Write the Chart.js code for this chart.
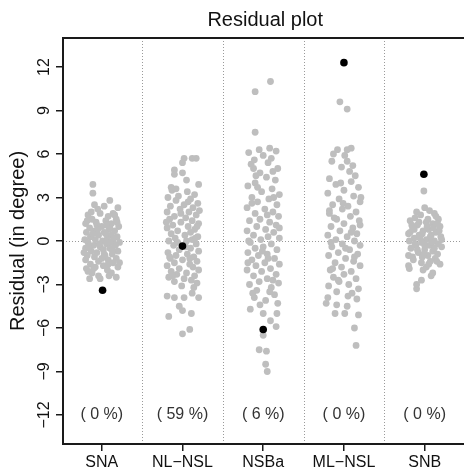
<!DOCTYPE html>
<html>
<head>
<meta charset="utf-8">
<script src="https://cdn.jsdelivr.net/npm/chart.js@4/dist/chart.umd.min.js"></script>
<style>
  html, body { margin: 0; padding: 0; background: #fff; overflow: hidden; }
  canvas { display: block; }
</style>
</head>
<body>
<canvas id="chart" width="464" height="472"></canvas>
<script>
// categories and the share labels printed near the bottom
const categories = ['SNA', 'NL\u2212NSL', 'NSBa', 'ML\u2212NSL', 'SNB'];
const shareLabels = ['( 0 %)', '( 59 %)', '( 6 %)', '( 0 %)', '( 0 %)'];
const yTicks = [-12, -9, -6, -3, 0, 3, 6, 9, 12];

// residuals per category: [jitter, residual]
const snaPts = [[-0.11,3.9],[-0.11,3.3],[0.1,2.8],[-0.09,2.5],[0.2,2.3],[-0.05,2.2],[0.03,2.4],[0.14,1.9],[-0.17,1.8],[0.08,1.7],[-0.02,1.9],[0.18,1.5],[-0.12,1.5],[0.05,1.4],[-0.2,1.2],[0.12,1.2],[-0.06,1.1],[0.21,1.0],[0.0,1.0],[-0.15,0.9],[0.09,0.8],[-0.09,0.7],[0.16,0.7],[-0.19,0.6],[0.03,0.6],[0.12,0.4],[-0.04,0.4],[-0.14,0.3],[0.19,0.3],[0.07,0.2],[-0.21,0.1],[-0.08,0.1],[0.14,0.0],[0.01,0.0],[-0.17,-0.1],[0.22,-0.1],[0.06,-0.2],[-0.1,-0.3],[0.17,-0.3],[-0.02,-0.4],[-0.2,-0.5],[0.1,-0.5],[0.02,-0.6],[-0.13,-0.7],[0.2,-0.7],[-0.06,-0.8],[0.13,-0.9],[-0.18,-1.0],[0.04,-1.0],[-0.09,-1.1],[0.18,-1.2],[-0.2,-1.3],[0.08,-1.3],[-0.04,-1.4],[0.14,-1.5],[-0.14,-1.6],[0.02,-1.7],[0.2,-1.8],[-0.1,-1.9],[0.07,-2.0],[-0.17,-2.1],[0.12,-2.2],[-0.04,-2.4],[-0.12,-2.2],[0.18,-2.5],[-0.02,-2.6],[0.08,-1.6],[-0.16,-0.4],[0.1,0.9],[-0.07,1.3],[0.16,1.8],[-0.13,2.0],[0.05,0.5],[-0.22,-0.8],[0.22,-1.5],[0.0,-1.2],[0.11,-0.1],[-0.11,0.5],[0.19,1.3],[-0.03,-0.2],[0.15,0.2],[-0.18,1.4],[0.06,1.1],[-0.08,-1.8],[0.09,-2.4],[-0.15,-2.6],[0.13,-0.6],[-0.05,0.8],[0.03,-0.9],[-0.19,-1.9]];
const nlnslPts = [[0.02,5.7],[0.12,5.7],[0.17,5.7],[0.0,5.4],[-0.1,4.9],[-0.1,4.6],[0.0,4.7],[0.05,4.2],[0.2,3.9],[-0.14,3.7],[0.06,3.4],[-0.05,3.1],[0.15,3.2],[-0.18,3.0],[0.1,2.9],[-0.08,2.8],[0.19,2.6],[0.02,2.5],[-0.15,2.4],[0.13,2.3],[-0.03,2.2],[0.08,2.0],[-0.19,2.0],[0.17,1.8],[-0.1,1.7],[0.04,1.6],[-0.16,1.5],[0.12,1.4],[-0.02,1.3],[0.2,1.2],[-0.12,1.1],[0.07,1.0],[-0.19,0.9],[0.15,0.8],[-0.06,0.7],[0.1,0.6],[-0.14,0.5],[0.03,0.4],[0.19,0.3],[-0.09,0.2],[0.12,0.1],[-0.17,0.0],[0.05,0.0],[0.17,-0.2],[-0.11,-0.3],[0.1,-0.5],[-0.04,-0.6],[0.2,-0.7],[-0.18,-0.8],[0.06,-0.9],[-0.08,-1.0],[0.14,-1.1],[-0.15,-1.2],[0.0,-1.3],[0.18,-1.4],[-0.1,-1.5],[0.09,-1.6],[-0.19,-1.7],[0.13,-1.8],[-0.04,-1.9],[0.2,-2.0],[-0.14,-2.1],[0.05,-2.2],[-0.07,-2.3],[0.15,-2.4],[-0.17,-2.5],[0.02,-2.6],[0.11,-2.7],[-0.1,-2.8],[0.18,-2.9],[-0.01,-3.1],[0.12,-3.6],[-0.19,-3.8],[-0.1,-3.9],[0.02,-3.9],[0.2,-3.9],[-0.04,-4.5],[0.0,-4.8],[0.11,-5.0],[-0.17,-5.2],[0.09,-6.1],[0.0,-6.4],[-0.13,3.5],[0.18,1.0],[-0.06,-0.1],[0.07,2.7],[-0.2,1.3],[0.09,-1.2],[-0.12,-2.4],[0.16,0.2],[-0.02,1.9],[0.04,-0.4],[-0.16,-1.1],[0.14,-3.2],[-0.08,3.6],[0.21,2.1]];
const nsbaPts = [[0.09,11.0],[-0.1,10.3],[-0.1,7.5],[-0.18,6.1],[-0.05,6.3],[0.08,6.4],[0.16,6.2],[0.0,5.9],[-0.11,5.6],[0.06,5.4],[0.18,5.0],[-0.12,5.0],[-0.04,4.7],[0.15,4.2],[-0.1,4.0],[0.04,4.4],[-0.19,3.8],[0.11,3.6],[-0.02,3.4],[0.2,3.2],[-0.14,3.0],[0.07,2.9],[-0.07,2.7],[0.17,2.5],[-0.2,2.3],[0.02,2.2],[0.12,2.0],[-0.1,1.9],[0.19,1.7],[-0.04,1.5],[-0.17,1.4],[0.08,1.3],[0.16,1.1],[-0.08,1.0],[0.03,0.8],[-0.2,0.7],[0.13,0.6],[-0.12,0.4],[0.06,0.3],[0.2,0.2],[-0.03,0.1],[-0.16,-0.1],[0.1,-0.2],[0.0,-0.4],[-0.1,-0.5],[0.17,-0.6],[-0.19,-0.8],[0.05,-0.9],[-0.06,-1.0],[0.14,-1.2],[-0.14,-1.3],[0.02,-1.5],[0.2,-1.6],[-0.09,-1.7],[0.09,-1.9],[-0.2,-2.0],[-0.02,-2.1],[0.16,-2.3],[-0.12,-2.4],[0.05,-2.6],[-0.05,-2.8],[0.19,-2.9],[-0.17,-3.0],[0.1,-3.2],[-0.08,-3.4],[0.14,-3.7],[-0.11,-3.9],[0.03,-4.1],[-0.16,-4.7],[0.0,-5.0],[0.17,-5.0],[0.09,-5.5],[0.16,-5.9],[0.0,-6.5],[-0.05,-7.5],[0.04,-7.6],[0.03,-8.5],[0.05,-9.0],[-0.15,5.3],[0.12,4.8],[-0.07,3.7],[0.05,1.8],[-0.14,2.6],[0.2,0.9],[-0.01,-0.7],[0.12,-2.7],[-0.19,-1.5],[0.08,-3.5],[-0.04,-4.4],[0.18,-4.3],[-0.13,-3.6],[0.1,5.7],[0.13,3.0],[-0.18,0.0],[0.06,-1.2],[-0.09,4.5]];
const mlnslPts = [[-0.05,9.6],[0.04,9.1],[-0.08,6.3],[0.04,6.3],[0.09,6.4],[0.01,5.9],[0.04,5.5],[-0.15,5.5],[-0.03,5.1],[0.14,4.5],[-0.18,4.3],[0.09,4.1],[-0.1,3.9],[0.18,3.7],[0.0,3.5],[-0.2,3.3],[0.12,3.1],[-0.06,2.9],[0.2,2.7],[-0.14,2.5],[0.05,2.4],[-0.02,2.2],[0.15,2.0],[-0.18,1.9],[0.08,1.7],[-0.09,1.5],[0.19,1.4],[0.0,1.2],[-0.16,1.0],[0.11,0.9],[-0.05,0.7],[0.16,0.5],[-0.2,0.4],[0.04,0.3],[-0.1,0.1],[0.13,0.0],[-0.02,-0.2],[0.2,-0.3],[-0.15,-0.4],[0.07,-0.6],[-0.07,-0.8],[0.17,-0.9],[-0.19,-1.0],[0.02,-1.2],[0.12,-1.4],[-0.11,-1.5],[0.2,-1.7],[-0.03,-1.8],[-0.17,-2.0],[0.09,-2.1],[0.0,-2.3],[-0.13,-2.5],[0.15,-2.6],[-0.06,-2.8],[0.06,-3.0],[-0.19,-3.1],[0.18,-3.3],[-0.09,-3.5],[0.1,-3.6],[-0.2,-3.9],[-0.09,-4.4],[0.04,-4.5],[-0.22,-4.3],[-0.11,-5.0],[0.01,-5.0],[0.18,-5.1],[0.13,-6.0],[0.15,-7.2],[-0.13,6.0],[0.07,4.8],[-0.04,4.0],[0.21,3.0],[-0.12,1.6],[0.09,0.6],[-0.16,-0.1],[0.13,-1.1],[-0.07,-2.7],[0.05,-3.8],[-0.14,-1.9],[0.2,1.1],[-0.01,2.6],[0.11,5.2],[-0.18,2.1],[0.02,-0.5],[0.16,-4.0]];
const snbPts = [[-0.01,3.45],[0.0,2.3],[0.12,1.9],[-0.12,1.6],[0.06,2.1],[-0.05,1.8],[0.17,1.5],[-0.18,1.4],[0.02,1.3],[0.1,1.2],[-0.09,1.1],[0.19,1.0],[-0.15,0.9],[0.05,0.8],[-0.02,0.7],[0.14,0.6],[-0.2,0.5],[0.08,0.4],[-0.07,0.4],[0.2,0.3],[-0.13,0.2],[0.02,0.1],[0.12,0.0],[-0.19,0.0],[-0.04,-0.1],[0.17,-0.2],[0.06,-0.3],[-0.11,-0.3],[0.21,-0.4],[-0.17,-0.5],[0.0,-0.6],[0.1,-0.7],[-0.08,-0.8],[0.16,-0.9],[-0.2,-1.0],[0.04,-1.0],[-0.03,-1.1],[0.13,-1.2],[-0.14,-1.3],[0.07,-1.4],[-0.04,-1.5],[0.19,-1.6],[-0.2,-1.7],[0.02,-1.8],[-0.19,-1.9],[-0.02,-2.0],[0.08,-2.4],[-0.1,-3.3],[-0.1,-3.0],[-0.04,-2.7],[0.1,-2.2],[0.14,1.7],[-0.1,2.0],[0.04,1.5],[-0.16,1.1],[0.11,0.9],[-0.06,0.2],[0.18,0.7],[0.0,-0.3],[-0.12,-0.2],[0.09,-0.1],[-0.03,0.5],[0.15,-1.4],[-0.09,-0.6],[0.05,-1.6],[0.21,0.1],[-0.18,0.6],[0.03,1.0],[-0.07,1.3],[0.12,-0.5],[-0.15,-1.1],[0.07,0.3],[-0.01,-0.9],[0.16,1.2],[-0.13,0.8]];

// highlighted case, one per category: [jitter, residual]
const markedPts = [[0.01,-3.4],[0.0,-0.35],[0.0,-6.1],[0.0,12.3],[-0.01,4.6]];

const groups = [snaPts, nlnslPts, nsbaPts, mlnslPts, snbPts];
const FONT = '"Liberation Sans", Arial, Helvetica, sans-serif';

const grayData = [];
groups.forEach((pts, i) => pts.forEach(p => grayData.push({ x: i + p[0], y: p[1] })));
const blackData = markedPts.map((p, i) => ({ x: i + p[0], y: p[1] }));

// dotted guides, box, title and text labels
const decor = {
  id: 'decor',
  beforeDatasetsDraw(chart) {
    const { ctx, chartArea: a, scales: { x, y } } = chart;
    ctx.save();
    ctx.strokeStyle = '#9a9a9a';
    ctx.lineWidth = 1;
    ctx.setLineDash([1, 2]);
    [0.5, 1.5, 2.5, 3.5].forEach(v => {
      const px = Math.round(x.getPixelForValue(v)) + 0.5;
      ctx.beginPath(); ctx.moveTo(px, a.top); ctx.lineTo(px, a.bottom); ctx.stroke();
    });
    const py = Math.round(y.getPixelForValue(0)) + 0.5;
    ctx.beginPath(); ctx.moveTo(a.left, py); ctx.lineTo(a.right, py); ctx.stroke();
    ctx.restore();
  },
  afterDatasetsDraw(chart) {
    const { ctx, chartArea: a, scales: { x, y } } = chart;
    ctx.save();
    // box (right side runs off the picture)
    ctx.strokeStyle = '#1a1a1a';
    ctx.lineWidth = 2;
    ctx.beginPath();
    ctx.moveTo(a.right + 5, a.top); ctx.lineTo(a.left, a.top);
    ctx.lineTo(a.left, a.bottom); ctx.lineTo(a.right + 5, a.bottom);
    ctx.stroke();

    // share labels
    ctx.fillStyle = '#333';
    ctx.font = '16px ' + FONT;
    ctx.textAlign = 'center';
    ctx.textBaseline = 'middle';
    shareLabels.forEach((t, i) => ctx.fillText(t, x.getPixelForValue(i), y.getPixelForValue(-12)));

    // title
    ctx.fillStyle = '#111';
    ctx.font = '20px ' + FONT;
    ctx.fillText('Residual plot', x.getPixelForValue(2) + 2, 20);

    // y tick labels, R style (parallel to axis)
    ctx.font = '16px ' + FONT;
    yTicks.forEach(v => {
      ctx.save();
      ctx.translate(45, y.getPixelForValue(v));
      ctx.rotate(-Math.PI / 2);
      ctx.fillText(v < 0 ? '\u2212' + Math.abs(v) : String(v), 0, 0);
      ctx.restore();
    });

    // y axis title
    ctx.font = '20px ' + FONT;
    ctx.translate(18, (a.top + a.bottom) / 2);
    ctx.rotate(-Math.PI / 2);
    ctx.fillText('Residual (in degree)', 0, 0);
    ctx.restore();
  }
};

new Chart(document.getElementById('chart'), {
  type: 'scatter',
  data: {
    datasets: [
      // first dataset is painted last, so the marked cases sit on top
      { data: blackData, backgroundColor: '#000', borderWidth: 0, pointRadius: 3.8, pointHoverRadius: 3.8 },
      { data: grayData, backgroundColor: '#bebebe', borderWidth: 0, pointRadius: 3.4, pointHoverRadius: 3.4 }
    ]
  },
  options: {
    responsive: false,
    animation: false,
    events: [],
    layout: { padding: { top: 38, left: 0, right: 0, bottom: 0 } },
    plugins: { legend: { display: false }, tooltip: { enabled: false }, title: { display: false } },
    scales: {
      x: {
        type: 'linear',
        min: -0.48,
        max: 4.44,
        afterBuildTicks: s => { s.ticks = categories.map((c, i) => ({ value: i })); },
        afterFit: s => { s.height = 28; },
        ticks: {
          callback: v => categories[v],
          font: { family: FONT, size: 16 },
          color: '#111',
          padding: 2,
          maxRotation: 0,
          autoSkip: false
        },
        grid: { drawOnChartArea: false, drawTicks: true, tickLength: 7, color: '#1a1a1a', lineWidth: 1.5 },
        border: { display: false }
      },
      y: {
        type: 'linear',
        min: -14,
        max: 14,
        afterBuildTicks: s => { s.ticks = yTicks.map(v => ({ value: v })); },
        afterFit: s => { s.width = 63; },
        ticks: { display: false },
        grid: { drawOnChartArea: false, drawTicks: true, tickLength: 7, color: '#1a1a1a', lineWidth: 1.5 },
        border: { display: false }
      }
    }
  },
  plugins: [decor]
});
</script>
</body>
</html>
